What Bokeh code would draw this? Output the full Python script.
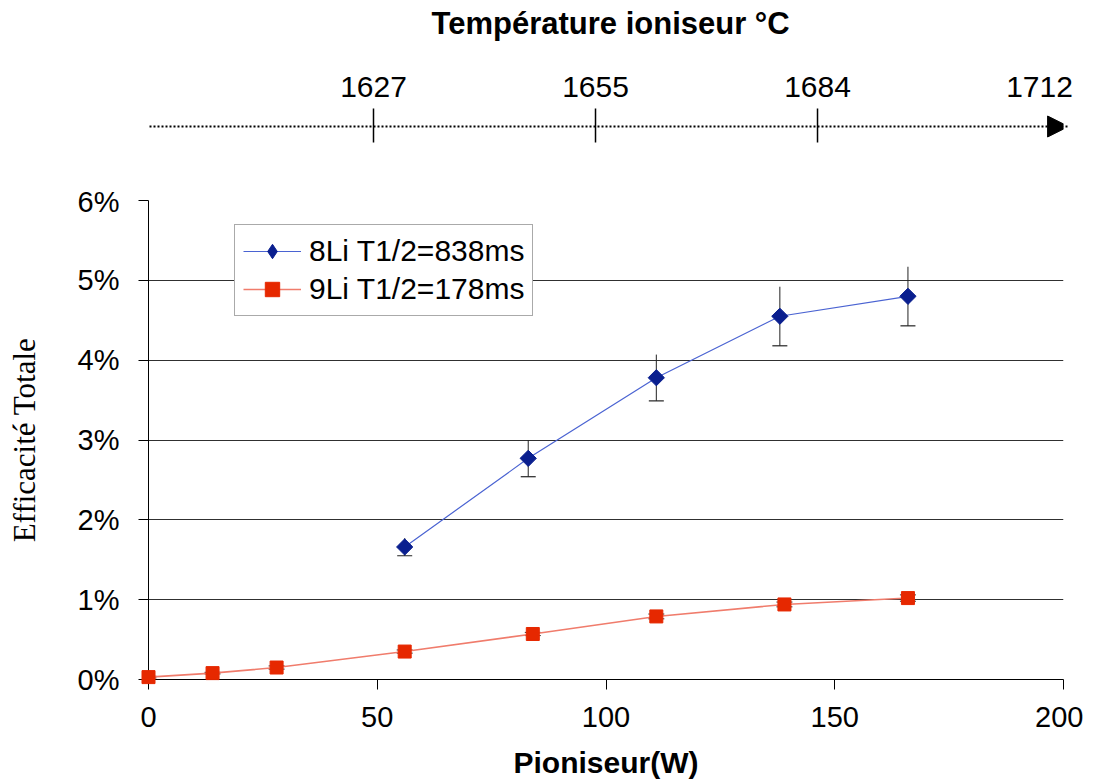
import math
from bokeh.plotting import figure
from bokeh.layouts import column
from bokeh.models import Range1d, FixedTicker, Legend, LegendItem, Arrow, NormalHead
from bokeh.embed import file_html
from bokeh.resources import INLINE
from bokeh.core.properties import value

# ---------------- data ----------------
power_8li = [56, 83, 111, 138, 166]
eff_8li = [1.66, 2.77, 3.78, 4.55, 4.80]
err_8li = [0.11, 0.23, 0.29, 0.37, 0.37]

power_9li = [0, 14, 28, 56, 84, 111, 139, 166]
eff_9li = [0.03, 0.08, 0.15, 0.35, 0.57, 0.79, 0.94, 1.02]
err_9li = [0.01, 0.01, 0.02, 0.02, 0.02, 0.03, 0.03, 0.04]

x_ticks = [0, 50, 100, 150, 200]
y_ticks = [0, 1, 2, 3, 4, 5, 6]
grid_ticks = [1, 2, 3, 4, 5]

temp_labels = ["1627", "1655", "1684", "1712"]
temp_has_tick = [True, True, True, False]

label_8li = "8Li T1/2=838ms"
label_9li = "9Li T1/2=178ms"

SANS = "Liberation Sans"
SERIF = "Liberation Serif"

# ---------------- top temperature axis ----------------
top = figure(width=1083, height=185, x_range=Range1d(-1.0135, 3.108),
             y_range=Range1d(185, 0), output_backend="svg", toolbar_location=None,
             x_axis_location=None, y_axis_location=None, min_border=0,
             min_border_left=148, min_border_right=20)
top.grid.visible = False
top.outline_line_color = None

idx = list(range(len(temp_labels)))
tick_idx = [i for i, t in zip(idx, temp_has_tick) if t]

top.text(x=idx, y=[86] * len(idx), text=temp_labels, text_align="center",
         text_baseline="middle", text_font=value(SANS), text_font_size="30px",
         text_color="black", level="overlay")
top.segment(x0=tick_idx, y0=[108] * len(tick_idx), x1=tick_idx, y1=[142] * len(tick_idx),
            line_color="black", line_width=1.5)
top.add_layout(Arrow(end=NormalHead(size=21, fill_color="black", line_color="black",
                                    line_width=1),
                     x_start=-1.027, y_start=126, x_end=3.131, y_end=126,
                     line_dash="2 2", line_width=2.2, line_color="black",
                     level="overlay"))
top.text(x=[1.068], y=[23], text=["Température ioniseur °C"], text_align="center",
         text_baseline="middle", text_font=value(SANS), text_font_size="31px",
         text_font_style="bold", text_color="black", level="overlay")

# ---------------- main chart ----------------
p = figure(width=1083, height=596, x_range=Range1d(0, 200), y_range=Range1d(0, 6),
           output_backend="svg", toolbar_location=None,
           min_border_left=148, min_border_right=20, min_border_top=15,
           min_border_bottom=102)
p.outline_line_color = None
p.xgrid.visible = False
p.ygrid.ticker = FixedTicker(ticks=grid_ticks)
p.ygrid.grid_line_color = "#303030"
p.ygrid.grid_line_width = 1

for ax in (p.xaxis[0], p.yaxis[0]):
    ax.axis_line_color = "black"
    ax.major_tick_line_color = "black"
    ax.major_tick_out = 10
    ax.major_tick_in = 0
    ax.minor_tick_line_color = None
    ax.major_label_text_font = SANS
    ax.major_label_text_font_size = "29px"
    ax.major_label_text_color = "black"
    ax.axis_label_text_color = "black"

p.xaxis.ticker = FixedTicker(ticks=x_ticks)
p.xaxis.major_label_standoff = 17
p.xaxis.axis_label = "Pioniseur(W)"
p.xaxis.axis_label_text_font = SANS
p.xaxis.axis_label_text_font_size = "30px"
p.xaxis.axis_label_text_font_style = "bold"
p.xaxis.axis_label_standoff = 16

p.yaxis.ticker = FixedTicker(ticks=y_ticks)
p.yaxis.major_label_overrides = {t: f"{t}%" for t in y_ticks}
p.yaxis.major_label_standoff = 19
p.yaxis.axis_label = "Efficacité Totale"
p.yaxis.axis_label_text_font = SERIF
p.yaxis.axis_label_text_font_size = "31px"
p.yaxis.axis_label_text_font_style = "normal"
p.yaxis.axis_label_standoff = 33

# error bars 8Li (lower cap only, as in the original)
lo_8 = [v - e for v, e in zip(eff_8li, err_8li)]
hi_8 = [v + e for v, e in zip(eff_8li, err_8li)]
p.segment(x0=power_8li, y0=lo_8, x1=power_8li, y1=hi_8, line_color="#222222", line_width=1)
p.scatter(x=power_8li, y=lo_8, marker="dash", size=15, line_color="#222222", line_width=1.2)

# error bars 9Li
lo_9 = [v - e for v, e in zip(eff_9li, err_9li)]
hi_9 = [v + e for v, e in zip(eff_9li, err_9li)]
p.segment(x0=power_9li, y0=lo_9, x1=power_9li, y1=hi_9, line_color="#333333", line_width=1)
p.scatter(x=power_9li + power_9li, y=lo_9 + hi_9, marker="dash", size=16,
          line_color="#333333", line_width=1)

# series
l8 = p.line(power_8li, eff_8li, line_color="#4A63D2", line_width=1.2)
m8 = p.scatter(power_8li, eff_8li, marker="square", angle=math.pi / 4, size=11.5,
               fill_color="#0A1F8F", line_color="#0A1F8F", level="overlay")
# legend-only diamond (size 0 in the plot; legend sizes markers itself)
m8_leg = p.scatter(power_8li, eff_8li, marker="diamond", size=0,
                   fill_color="#0A1F8F", line_color="#0A1F8F")
l9 = p.line(power_9li, eff_9li, line_color="#F07C6C", line_width=1.6)
m9 = p.scatter(power_9li, eff_9li, marker="square", size=13,
               fill_color="#E62800", line_color="#E62800", level="overlay")

legend = Legend(items=[LegendItem(label=label_8li, renderers=[l8, m8_leg]),
                       LegendItem(label=label_9li, renderers=[l9, m9])],
                location=(86, 363))
legend.label_text_font = SANS
legend.label_text_font_size = "30px"
legend.label_text_color = "black"
legend.label_height = 34
legend.glyph_height = 36
legend.glyph_width = 58
legend.label_standoff = 8
legend.padding = 8
legend.spacing = 2
legend.margin = 0
legend.border_line_color = "#555555"
legend.border_line_width = 1
legend.background_fill_color = "white"
legend.background_fill_alpha = 1
p.add_layout(legend)

layout = column(top, p, spacing=0)
open("out.html", "w").write(file_html(layout, INLINE))
